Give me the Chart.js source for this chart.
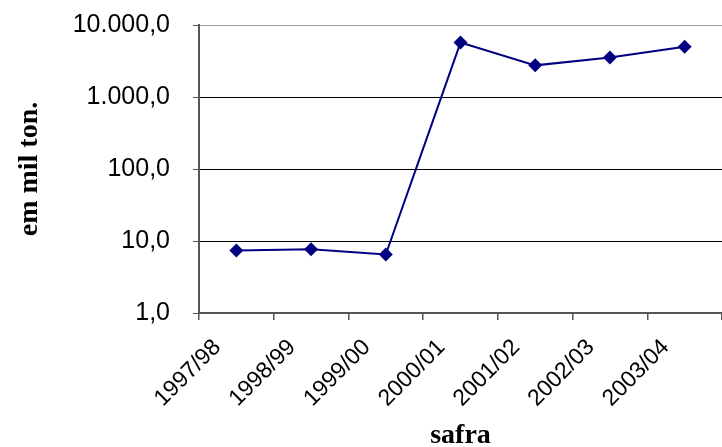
<!DOCTYPE html>
<html lang="pt">
<head>
  <meta charset="UTF-8">
  <title>safra - em mil ton.</title>
  <script src="https://cdn.jsdelivr.net/npm/chart.js"></script>
  <style>
    html, body { margin: 0; padding: 0; background: #fff; }
    #wrap { width: 722px; height: 447px; }
  </style>
</head>
<body>
  <div id="wrap"><canvas id="chart"></canvas></div>
  <script>
    // dados (escala log)
    const safras = ['1997/98', '1998/99', '1999/00', '2000/01', '2001/02', '2002/03', '2003/04'];
    const valores = [7.4, 7.7, 6.5, 5700, 2750, 3550, 5000];
    const yTicks = [1, 10, 100, 1000, 10000];

    // formato pt-BR: 10.000,0
    function fmt(v) {
      const parts = v.toFixed(1).split('.');
      const inteiro = parts[0].replace(/\B(?=(\d{3})+(?!\d))/g, '.');
      return inteiro + ',' + parts[1];
    }

    const ctx = document.getElementById('chart').getContext('2d');
    new Chart(ctx, {
      type: 'line',
      data: {
        labels: safras,
        datasets: [{
          data: valores,
          borderColor: '#000080',
          borderWidth: 2,
          backgroundColor: '#000080',
          pointStyle: 'rectRot',
          pointRadius: 7,
          pointBorderWidth: 0,
          pointBackgroundColor: '#000080',
          tension: 0,
          fill: false
        }]
      },
      options: {
        responsive: true,
        maintainAspectRatio: false,
        animation: false,
        layout: { autoPadding: false, padding: { top: 25, right: -2, bottom: 0, left: 0 } },
        plugins: {
          legend: { display: false },
          tooltip: { enabled: false }
        },
        scales: {
          x: {
            type: 'category',
            offset: true,
            afterFit: s => { s.height = 134; s.paddingLeft = 0; s.paddingRight = 0; },
            grid: {
              display: true,
              offset: true,
              drawOnChartArea: false,
              tickLength: 7,
              color: '#555',
              lineWidth: 1.5
            },
            border: { display: true, color: '#555', width: 2 },
            ticks: {
              autoSkip: false,
              minRotation: 45,
              maxRotation: 45,
              labelOffset: -19,
              padding: 14,
              color: '#000',
              font: { family: 'Arial, "Liberation Sans"', size: 23 }
            },
            title: {
              display: true,
              text: 'safra',
              color: '#000',
              padding: { top: 0, bottom: -6 },
              font: { family: '"Times New Roman", "Liberation Serif"', size: 28, weight: 'bold' }
            }
          },
          y: {
            type: 'logarithmic',
            min: 1,
            max: 10000,
            afterFit: s => { s.width = 199; s.paddingTop = 0; s.paddingBottom = 0; },
            afterBuildTicks: s => { s.ticks = yTicks.map(v => ({ value: v })); },
            grid: {
              color: c => (c.tick && c.tick.value === 10000) ? '#9a9a9a' : (c.tick && c.tick.value === 1 ? '#555' : '#000'),
              lineWidth: 1,
              tickLength: 6,
              tickColor: '#555'
            },
            border: { display: true, color: '#555', width: 2 },
            ticks: {
              padding: 23,
              color: '#000',
              callback: v => fmt(v),
              font: { family: 'Arial, "Liberation Sans"', size: 25 }
            },
            title: {
              display: true,
              text: 'em mil ton.',
              color: '#000',
              padding: { top: 13, bottom: 0 },
              font: { family: '"Times New Roman", "Liberation Serif"', size: 28, weight: 'bold' }
            }
          }
        }
      }
    });
  </script>
</body>
</html>
